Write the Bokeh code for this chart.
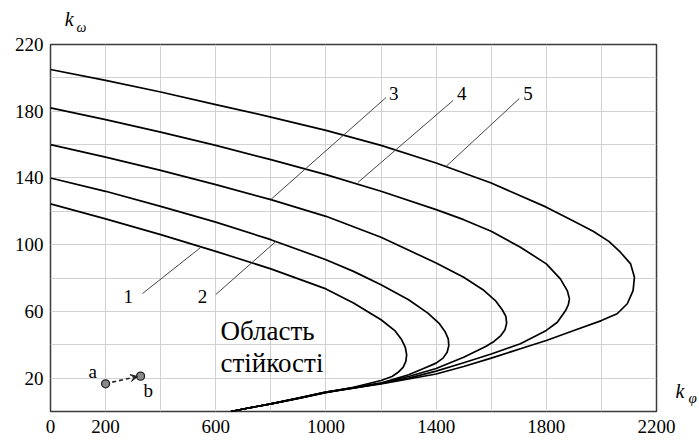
from bokeh.plotting import figure
from bokeh.models import FixedTicker, Label, Arrow, VeeHead, Range1d, LinearAxis
from bokeh.embed import file_html
from bokeh.resources import INLINE

# ---------------- data ----------------
x_ticks = [0, 200, 600, 1000, 1400, 1800, 2200]
y_ticks = [20, 60, 100, 140, 180, 220]
x_grid = [0, 200, 400, 600, 800, 1000, 1200, 1400, 1600, 1800, 2000, 2200]
y_grid = [0, 20, 40, 60, 80, 100, 120, 140, 160, 180, 200, 220]

c1_x = [0, 200, 400, 600, 800, 1000, 1100, 1200, 1250, 1275, 1288, 1293, 1290, 1280, 1262, 1240, 1200, 1100, 1000, 900, 800, 700, 655]
c1_y = [124.5, 115.5, 106, 96, 85.5, 73.5, 65, 55, 48.5, 43, 38.5, 34, 30, 26.5, 23.5, 21, 18.6, 14.5, 11.3, 7.8, 4.6, 1.5, 0]

c2_x = [0, 200, 400, 600, 800, 1000, 1100, 1200, 1300, 1370, 1410, 1432, 1444, 1446, 1440, 1425, 1400, 1350, 1300, 1200, 1100, 1000, 900, 800, 700, 655]
c2_y = [140, 132, 123, 113.5, 103, 91, 84, 76, 67, 59, 53, 48, 43.5, 39.5, 35.5, 32, 29, 25.5, 22, 17, 14, 11.4, 7.9, 4.6, 1.5, 0]

c3_x = [0, 200, 400, 600, 800, 1000, 1200, 1400, 1500, 1570, 1615, 1640, 1653, 1656, 1650, 1635, 1610, 1580, 1500, 1400, 1300, 1200, 1000, 900, 800, 700, 655]
c3_y = [160, 152.5, 144.5, 136, 127, 117, 104.5, 89, 80.5, 73, 66.5, 61, 57, 53, 49, 45.5, 42, 39, 32.5, 25.8, 21, 17, 11.6, 8, 4.6, 1.5, 0]

c4_x = [0, 200, 400, 600, 800, 1000, 1200, 1400, 1500, 1600, 1706, 1800, 1851, 1876, 1884, 1880, 1870, 1840, 1800, 1706, 1600, 1500, 1400, 1300, 1200, 1000, 900, 800, 700, 655]
c4_y = [182, 175, 167.5, 159.5, 151, 142, 132, 121, 115, 108, 98.5, 88.5, 79.5, 72.5, 67.5, 64, 60.5, 53.5, 48.6, 40.6, 34.5, 29.2, 24.2, 20, 16.8, 11.6, 8, 4.6, 1.5, 0]

c5_x = [0, 200, 400, 600, 800, 1000, 1200, 1400, 1600, 1800, 1900, 1970, 2027, 2069, 2106, 2120, 2115, 2094, 2057, 2000, 1900, 1800, 1706, 1600, 1500, 1400, 1300, 1200, 1000, 900, 800, 700, 655]
c5_y = [205, 198.5, 191.5, 184, 176.5, 168.5, 159.5, 149, 137, 122.5, 114, 108, 102, 95.5, 88.5, 80.5, 72.5, 64.6, 58.6, 54.5, 48.6, 42.6, 37.6, 32, 27, 22.5, 19.5, 16.6, 11.6, 8, 4.6, 1.5, 0]

curves = [(c1_x, c1_y), (c2_x, c2_y), (c3_x, c3_y), (c4_x, c4_y), (c5_x, c5_y)]

# leader lines: label end -> curve point
lead_x0 = [334, 600, 800, 1116, 1436]
lead_y0 = [70.7, 70.1, 127.1, 137.3, 146.9]
lead_x1 = [545, 818, 1218, 1462, 1702]
lead_y1 = [98.3, 101.9, 188.2, 186.5, 187.6]

curve_names = ["1", "2", "3", "4", "5"]
name_x = [265, 535, 1229, 1476, 1716]
name_y = [68.9, 68.9, 190.7, 190.7, 190.7]

# points a and b
pt_x = [200, 327]
pt_y = [16.6, 21.2]
pt_names = ["a", "b"]
pt_name_x = [138, 338]
pt_name_y = [24.0, 12.6]
arrow_x = [224, 316]
arrow_y = [17.6, 21.0]

region_lines = ["Область", "стійкості"]
region_x = 617
region_y = [48.0, 28.8]

# axis symbols (positions along the axes)
k_omega_x = [68, 112]     # "k", "ω" above the plot
k_phi_y = [12, 8]         # "k", "φ" right of the plot

FONT = "Liberation Serif"

# ---------------- figure ----------------
p = figure(width=699, height=443, x_range=Range1d(0, 2200), y_range=Range1d(0, 220),
           output_backend="svg", toolbar_location=None,
           min_border_left=50, min_border_right=43, min_border_top=44, min_border_bottom=32)
p.background_fill_color = "white"
p.border_fill_color = "white"
p.outline_line_color = "#3a3a3a"
p.outline_line_width = 1.5


def style_axis(ax, size, italic=False):
    ax.axis_line_color = None
    ax.major_tick_line_color = None
    ax.minor_tick_line_color = None
    ax.major_tick_out = 0
    ax.major_tick_in = 0
    ax.minor_tick_out = 0
    ax.minor_tick_in = 0
    ax.major_label_text_font = FONT
    ax.major_label_text_font_size = size
    ax.major_label_text_color = "black"
    if italic:
        ax.major_label_text_font_style = "italic"


p.xaxis.ticker = FixedTicker(ticks=x_ticks)
p.yaxis.ticker = FixedTicker(ticks=y_ticks)
style_axis(p.xaxis[0], "19px")
style_axis(p.yaxis[0], "19px")
p.xaxis.major_label_standoff = 8
p.yaxis.major_label_standoff = 7

# k_omega above the frame: subscript first (nearest the frame), then k
om_axis = LinearAxis(ticker=FixedTicker(ticks=[k_omega_x[1]]),
                     major_label_overrides={k_omega_x[1]: "ω"})
style_axis(om_axis, "14px", italic=True)
om_axis.major_label_standoff = 10
p.add_layout(om_axis, "above")
k1_axis = LinearAxis(ticker=FixedTicker(ticks=[k_omega_x[0]]),
                     major_label_overrides={k_omega_x[0]: "k"})
style_axis(k1_axis, "20px", italic=True)
k1_axis.major_label_standoff = -13
p.add_layout(k1_axis, "above")

# k_phi right of the frame
k2_axis = LinearAxis(ticker=FixedTicker(ticks=[k_phi_y[0]]),
                     major_label_overrides={k_phi_y[0]: "k"})
style_axis(k2_axis, "20px", italic=True)
k2_axis.major_label_standoff = 19
p.add_layout(k2_axis, "right")
ph_axis = LinearAxis(ticker=FixedTicker(ticks=[k_phi_y[1]]),
                     major_label_overrides={k_phi_y[1]: "φ"})
style_axis(ph_axis, "15px", italic=True)
ph_axis.major_label_standoff = 1
p.add_layout(ph_axis, "right")

p.xgrid.ticker = FixedTicker(ticks=x_grid)
p.ygrid.ticker = FixedTicker(ticks=y_grid)
p.xgrid.grid_line_color = "#d2d2d2"
p.ygrid.grid_line_color = "#d2d2d2"
p.xgrid.grid_line_width = 1
p.ygrid.grid_line_width = 1

for cx, cy in curves:
    p.line(cx, cy, line_color="black", line_width=1.7, line_join="round")

p.segment(x0=lead_x0, y0=lead_y0, x1=lead_x1, y1=lead_y1, line_color="#444444", line_width=1)

for t, lx, ly in zip(curve_names, name_x, name_y):
    p.add_layout(Label(x=lx, y=ly, text=t, text_font=FONT, text_font_size="19px",
                       text_color="black", text_baseline="alphabetic", text_align="left"))

for t, ry in zip(region_lines, region_y):
    p.add_layout(Label(x=region_x, y=ry, text=t, text_font=FONT, text_font_size="27px",
                       text_color="black", text_baseline="alphabetic", text_align="left"))

p.add_layout(Arrow(end=VeeHead(size=7, line_color="#222222", fill_color="#222222", line_width=1),
                   x_start=arrow_x[0], y_start=arrow_y[0], x_end=arrow_x[1], y_end=arrow_y[1],
                   line_color="#222222", line_width=1.6, line_dash="4 3"))
p.scatter(pt_x, pt_y, size=8, fill_color="#8a8a8a", line_color="#222222", line_width=1.3)

for t, lx, ly in zip(pt_names, pt_name_x, pt_name_y):
    p.add_layout(Label(x=lx, y=ly, text=t, text_font=FONT, text_font_size="19px",
                       text_color="black", text_baseline="alphabetic", text_align="left"))

open("out.html", "w").write(file_html(p, INLINE))
